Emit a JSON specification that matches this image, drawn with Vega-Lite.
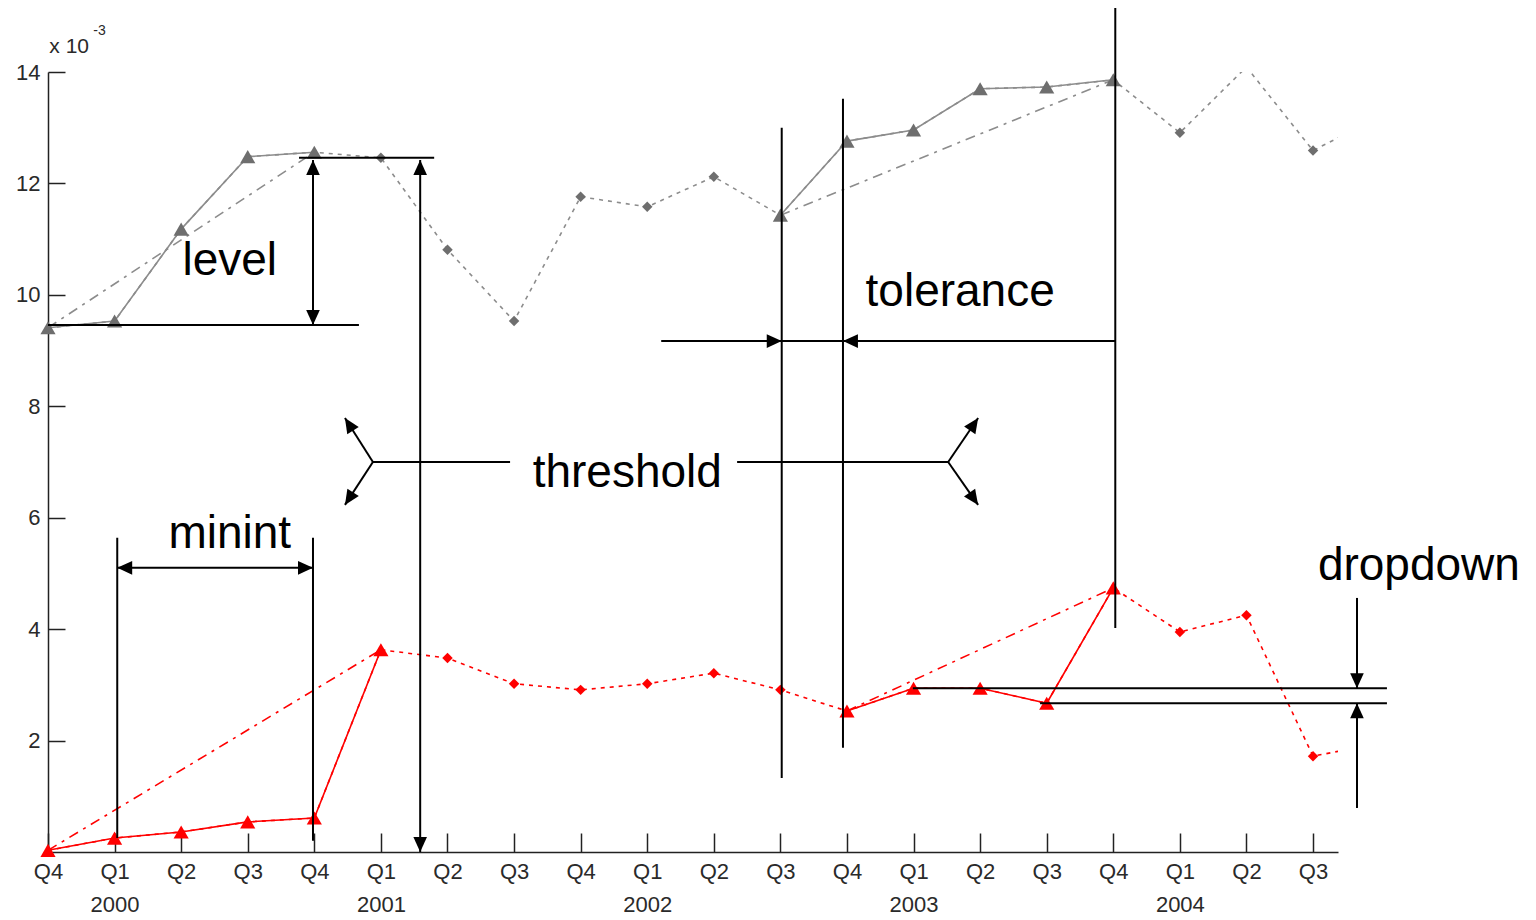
{
  "$schema": "https://vega.github.io/schema/vega-lite/v6.json",
  "width": 1290,
  "height": 780,
  "autosize": {"type": "none"},
  "padding": {"left": 48, "top": 72, "right": 198, "bottom": 68},
  "background": "white",
  "config": {"view": {"stroke": null}},
  "datasets": {
    "dotted": [
      {"s": "grey", "t": 0, "v": 9.41}, {"s": "grey", "t": 1, "v": 9.53}, {"s": "grey", "t": 2, "v": 11.18},
      {"s": "grey", "t": 3, "v": 12.48}, {"s": "grey", "t": 4, "v": 12.56}, {"s": "grey", "t": 5, "v": 12.46},
      {"s": "grey", "t": 6, "v": 10.81}, {"s": "grey", "t": 7, "v": 9.53}, {"s": "grey", "t": 8, "v": 11.76},
      {"s": "grey", "t": 9, "v": 11.58}, {"s": "grey", "t": 10, "v": 12.12}, {"s": "grey", "t": 11, "v": 11.43},
      {"s": "grey", "t": 12, "v": 12.76}, {"s": "grey", "t": 13, "v": 12.96}, {"s": "grey", "t": 14, "v": 13.7},
      {"s": "grey", "t": 15, "v": 13.73}, {"s": "grey", "t": 16, "v": 13.86}, {"s": "grey", "t": 17, "v": 12.91},
      {"s": "grey", "t": 18, "v": 14.09}, {"s": "grey", "t": 19, "v": 12.59}, {"s": "grey", "t": 20, "v": 13.2},
      {"s": "red", "t": 0, "v": 0.03}, {"s": "red", "t": 1, "v": 0.25}, {"s": "red", "t": 2, "v": 0.36},
      {"s": "red", "t": 3, "v": 0.54}, {"s": "red", "t": 4, "v": 0.61}, {"s": "red", "t": 5, "v": 3.63},
      {"s": "red", "t": 6, "v": 3.48}, {"s": "red", "t": 7, "v": 3.02}, {"s": "red", "t": 8, "v": 2.91},
      {"s": "red", "t": 9, "v": 3.02}, {"s": "red", "t": 10, "v": 3.21}, {"s": "red", "t": 11, "v": 2.91},
      {"s": "red", "t": 12, "v": 2.53}, {"s": "red", "t": 13, "v": 2.94}, {"s": "red", "t": 14, "v": 2.94},
      {"s": "red", "t": 15, "v": 2.67}, {"s": "red", "t": 16, "v": 4.74}, {"s": "red", "t": 17, "v": 3.95},
      {"s": "red", "t": 18, "v": 4.25}, {"s": "red", "t": 19, "v": 1.72}, {"s": "red", "t": 20, "v": 1.95}
    ],
    "solid": [
      {"s": "grey", "seg": "a", "t": 0, "v": 9.41}, {"s": "grey", "seg": "a", "t": 1, "v": 9.53},
      {"s": "grey", "seg": "a", "t": 2, "v": 11.18}, {"s": "grey", "seg": "a", "t": 3, "v": 12.48},
      {"s": "grey", "seg": "a", "t": 4, "v": 12.56},
      {"s": "grey", "seg": "b", "t": 11, "v": 11.43}, {"s": "grey", "seg": "b", "t": 12, "v": 12.76},
      {"s": "grey", "seg": "b", "t": 13, "v": 12.96}, {"s": "grey", "seg": "b", "t": 14, "v": 13.7},
      {"s": "grey", "seg": "b", "t": 15, "v": 13.73}, {"s": "grey", "seg": "b", "t": 16, "v": 13.86},
      {"s": "red", "seg": "a", "t": 0, "v": 0.03}, {"s": "red", "seg": "a", "t": 1, "v": 0.25},
      {"s": "red", "seg": "a", "t": 2, "v": 0.36}, {"s": "red", "seg": "a", "t": 3, "v": 0.54},
      {"s": "red", "seg": "a", "t": 4, "v": 0.61}, {"s": "red", "seg": "a", "t": 5, "v": 3.63},
      {"s": "red", "seg": "b", "t": 12, "v": 2.53}, {"s": "red", "seg": "b", "t": 13, "v": 2.94},
      {"s": "red", "seg": "b", "t": 14, "v": 2.94}, {"s": "red", "seg": "b", "t": 15, "v": 2.67},
      {"s": "red", "seg": "b", "t": 16, "v": 4.74}
    ],
    "dashed": [
      {"s": "grey", "seg": "a", "t": 0, "v": 9.41}, {"s": "grey", "seg": "a", "t": 4, "v": 12.56},
      {"s": "grey", "seg": "b", "t": 11, "v": 11.43}, {"s": "grey", "seg": "b", "t": 16, "v": 13.86},
      {"s": "red", "seg": "a", "t": 0, "v": 0.03}, {"s": "red", "seg": "a", "t": 5, "v": 3.63},
      {"s": "red", "seg": "b", "t": 12, "v": 2.53}, {"s": "red", "seg": "b", "t": 16, "v": 4.74}
    ],
    "tri": [
      {"s": "grey", "t": 0, "v": 9.41}, {"s": "grey", "t": 1, "v": 9.53}, {"s": "grey", "t": 2, "v": 11.18},
      {"s": "grey", "t": 3, "v": 12.48}, {"s": "grey", "t": 4, "v": 12.56}, {"s": "grey", "t": 11, "v": 11.43},
      {"s": "grey", "t": 12, "v": 12.76}, {"s": "grey", "t": 13, "v": 12.96}, {"s": "grey", "t": 14, "v": 13.7},
      {"s": "grey", "t": 15, "v": 13.73}, {"s": "grey", "t": 16, "v": 13.86},
      {"s": "red", "t": 0, "v": 0.03}, {"s": "red", "t": 1, "v": 0.25}, {"s": "red", "t": 2, "v": 0.36},
      {"s": "red", "t": 3, "v": 0.54}, {"s": "red", "t": 4, "v": 0.61}, {"s": "red", "t": 5, "v": 3.63},
      {"s": "red", "t": 12, "v": 2.53}, {"s": "red", "t": 13, "v": 2.94}, {"s": "red", "t": 14, "v": 2.94},
      {"s": "red", "t": 15, "v": 2.67}, {"s": "red", "t": 16, "v": 4.74}
    ],
    "dia": [
      {"s": "grey", "t": 5, "v": 12.46}, {"s": "grey", "t": 6, "v": 10.81}, {"s": "grey", "t": 7, "v": 9.53},
      {"s": "grey", "t": 8, "v": 11.76}, {"s": "grey", "t": 9, "v": 11.58}, {"s": "grey", "t": 10, "v": 12.12},
      {"s": "grey", "t": 17, "v": 12.91}, {"s": "grey", "t": 19, "v": 12.59},
      {"s": "red", "t": 6, "v": 3.48}, {"s": "red", "t": 7, "v": 3.02}, {"s": "red", "t": 8, "v": 2.91},
      {"s": "red", "t": 9, "v": 3.02}, {"s": "red", "t": 10, "v": 3.21}, {"s": "red", "t": 11, "v": 2.91},
      {"s": "red", "t": 17, "v": 3.95}, {"s": "red", "t": 18, "v": 4.25}, {"s": "red", "t": 19, "v": 1.72}
    ],
    "lines": [
      {"x": 0, "y": 9.46, "x2": 4.67, "y2": 9.46},
      {"x": 3.77, "y": 12.46, "x2": 5.8, "y2": 12.46},
      {"x": 3.98, "y": 12.42, "x2": 3.98, "y2": 9.46},
      {"x": 5.59, "y": 12.42, "x2": 5.59, "y2": 0},
      {"x": 1.04, "y": 5.64, "x2": 1.04, "y2": 0.25},
      {"x": 3.98, "y": 5.64, "x2": 3.98, "y2": 0.2},
      {"x": 1.04, "y": 5.1, "x2": 3.98, "y2": 5.1},
      {"x": 11.02, "y": 13.0, "x2": 11.02, "y2": 1.33},
      {"x": 11.94, "y": 13.52, "x2": 11.94, "y2": 1.87},
      {"x": 16.03, "y": 15.15, "x2": 16.03, "y2": 4.02},
      {"x": 9.21, "y": 9.17, "x2": 16.03, "y2": 9.17},
      {"x": 4.88, "y": 7.0, "x2": 6.94, "y2": 7.0},
      {"x": 10.35, "y": 7.0, "x2": 13.52, "y2": 7.0},
      {"x": 4.88, "y": 7.0, "x2": 4.46, "y2": 7.79},
      {"x": 4.88, "y": 7.0, "x2": 4.46, "y2": 6.23},
      {"x": 13.52, "y": 7.0, "x2": 13.97, "y2": 7.79},
      {"x": 13.52, "y": 7.0, "x2": 13.97, "y2": 6.23},
      {"x": 12.99, "y": 2.94, "x2": 20.11, "y2": 2.94},
      {"x": 14.9, "y": 2.67, "x2": 20.11, "y2": 2.67},
      {"x": 19.66, "y": 4.56, "x2": 19.66, "y2": 2.94},
      {"x": 19.66, "y": 0.79, "x2": 19.66, "y2": 2.67}
    ],
    "heads": [
      {"x": 3.98, "y": 12.42, "ang": 0}, {"x": 3.98, "y": 9.46, "ang": 180},
      {"x": 5.59, "y": 12.42, "ang": 0}, {"x": 5.59, "y": 0, "ang": 180},
      {"x": 1.04, "y": 5.1, "ang": 270}, {"x": 3.98, "y": 5.1, "ang": 90},
      {"x": 11.02, "y": 9.17, "ang": 90}, {"x": 11.94, "y": 9.17, "ang": 270},
      {"x": 4.46, "y": 7.79, "ang": 327.5}, {"x": 4.46, "y": 6.23, "ang": 213},
      {"x": 13.97, "y": 7.79, "ang": 34}, {"x": 13.97, "y": 6.23, "ang": 145},
      {"x": 19.66, "y": 2.94, "ang": 180}, {"x": 19.66, "y": 2.67, "ang": 0}
    ],
    "words": [
      {"x": 2.73, "y": 10.36, "text": "level"},
      {"x": 13.7, "y": 9.8, "text": "tolerance"},
      {"x": 8.7, "y": 6.56, "text": "threshold"},
      {"x": 2.73, "y": 5.46, "text": "minint"},
      {"x": 20.59, "y": 4.88, "text": "dropdown"}
    ]
  },
  "encoding": {
    "x": {"type": "quantitative", "scale": {"domain": [0, 19.375], "nice": false, "zero": false}},
    "y": {"type": "quantitative", "scale": {"domain": [0, 14], "nice": false}}
  },
  "resolve": {"scale": {"color": "independent"}},
  "layer": [
    {
      "data": {"name": "dotted"},
      "mark": {"type": "line", "clip": true, "strokeWidth": 1.6, "strokeDash": [4, 5]},
      "encoding": {
        "x": {"field": "t", "type": "quantitative",
          "axis": {"values": [0,1,2,3,4,5,6,7,8,9,10,11,12,13,14,15,16,17,18,19],
            "labelExpr": "datum.value % 4 == 1 ? ['Q1', '' + (2000 + (datum.value - 1) / 4)] : ['Q4','Q1','Q2','Q3'][datum.value % 4]",
            "title": null, "grid": false, "tickSize": -19, "tickWidth": 1.5, "tickColor": "#222", "domainColor": "#222", "domainWidth": 1.5,
            "labelPadding": 28, "labelBaseline": "top", "labelLineHeight": 33, "labelFont": "Liberation Sans", "labelFontSize": 22,
            "labelColor": "#2a2a2a", "labelFlush": false, "labelOverlap": false}},
        "y": {"field": "v", "type": "quantitative",
          "axis": {"values": [2,4,6,8,10,12,14], "format": "d", "title": null, "grid": false, "tickSize": -17, "tickWidth": 1.5, "tickColor": "#222",
            "domainColor": "#222", "domainWidth": 1.5, "labelPadding": 25, "labelFont": "Liberation Sans", "labelFontSize": 22,
            "labelColor": "#2a2a2a", "labelFlush": false}},
        "color": {"field": "s", "type": "nominal", "scale": {"domain": ["grey", "red"], "range": ["#8c8c8c", "#ff0000"]}, "legend": null}
      }
    },
    {
      "data": {"name": "dashed"},
      "mark": {"type": "line", "strokeWidth": 1.6, "strokeDash": [10, 6, 3, 6]},
      "encoding": {
        "x": {"field": "t", "type": "quantitative"},
        "y": {"field": "v", "type": "quantitative"},
        "detail": {"field": "seg"},
        "color": {"field": "s", "type": "nominal", "scale": {"domain": ["grey", "red"], "range": ["#8c8c8c", "#ff0000"]}, "legend": null}
      }
    },
    {
      "data": {"name": "solid"},
      "mark": {"type": "line", "strokeWidth": 1.6},
      "encoding": {
        "x": {"field": "t", "type": "quantitative"},
        "y": {"field": "v", "type": "quantitative"},
        "detail": {"field": "seg"},
        "color": {"field": "s", "type": "nominal", "scale": {"domain": ["grey", "red"], "range": ["#8c8c8c", "#ff0000"]}, "legend": null}
      }
    },
    {
      "data": {"name": "tri"},
      "mark": {"type": "point", "shape": "triangle-up", "filled": true, "size": 230, "opacity": 1},
      "encoding": {
        "x": {"field": "t", "type": "quantitative"},
        "y": {"field": "v", "type": "quantitative"},
        "color": {"field": "s", "type": "nominal", "scale": {"domain": ["grey", "red"], "range": ["#6e6e6e", "#ff0000"]}, "legend": null}
      }
    },
    {
      "data": {"name": "dia"},
      "mark": {"type": "point", "shape": "diamond", "filled": true, "size": 110, "opacity": 1},
      "encoding": {
        "x": {"field": "t", "type": "quantitative"},
        "y": {"field": "v", "type": "quantitative"},
        "color": {"field": "s", "type": "nominal", "scale": {"domain": ["grey", "red"], "range": ["#6e6e6e", "#ff0000"]}, "legend": null}
      }
    },
    {
      "data": {"name": "lines"},
      "mark": {"type": "rule", "color": "#000000", "strokeWidth": 2},
      "encoding": {
        "x": {"field": "x", "type": "quantitative"},
        "y": {"field": "y", "type": "quantitative"},
        "x2": {"field": "x2"},
        "y2": {"field": "y2"}
      }
    },
    {
      "data": {"name": "heads"},
      "mark": {"type": "point", "shape": "M0,0L-0.5,1.1L0.5,1.1Z", "filled": true, "color": "#000000", "size": 740, "opacity": 1, "strokeWidth": 0},
      "encoding": {
        "x": {"field": "x", "type": "quantitative"},
        "y": {"field": "y", "type": "quantitative"},
        "angle": {"field": "ang", "type": "quantitative", "scale": null}
      }
    },
    {
      "data": {"name": "words"},
      "mark": {"type": "text", "font": "Liberation Sans", "fontSize": 46, "align": "center", "baseline": "alphabetic", "color": "#000000"},
      "encoding": {
        "x": {"field": "x", "type": "quantitative"},
        "y": {"field": "y", "type": "quantitative"},
        "text": {"field": "text"}
      }
    },
    {
      "data": {"values": [{"x": 0.02, "y": 14.34, "text": "x 10"}]},
      "mark": {"type": "text", "font": "Liberation Sans", "fontSize": 21, "align": "left", "baseline": "alphabetic", "color": "#2a2a2a"},
      "encoding": {
        "x": {"field": "x", "type": "quantitative"},
        "y": {"field": "y", "type": "quantitative"},
        "text": {"field": "text"}
      }
    },
    {
      "data": {"values": [{"x": 0.68, "y": 14.66, "text": "-3"}]},
      "mark": {"type": "text", "font": "Liberation Sans", "fontSize": 14, "align": "left", "baseline": "alphabetic", "color": "#2a2a2a"},
      "encoding": {
        "x": {"field": "x", "type": "quantitative"},
        "y": {"field": "y", "type": "quantitative"},
        "text": {"field": "text"}
      }
    }
  ]
}
